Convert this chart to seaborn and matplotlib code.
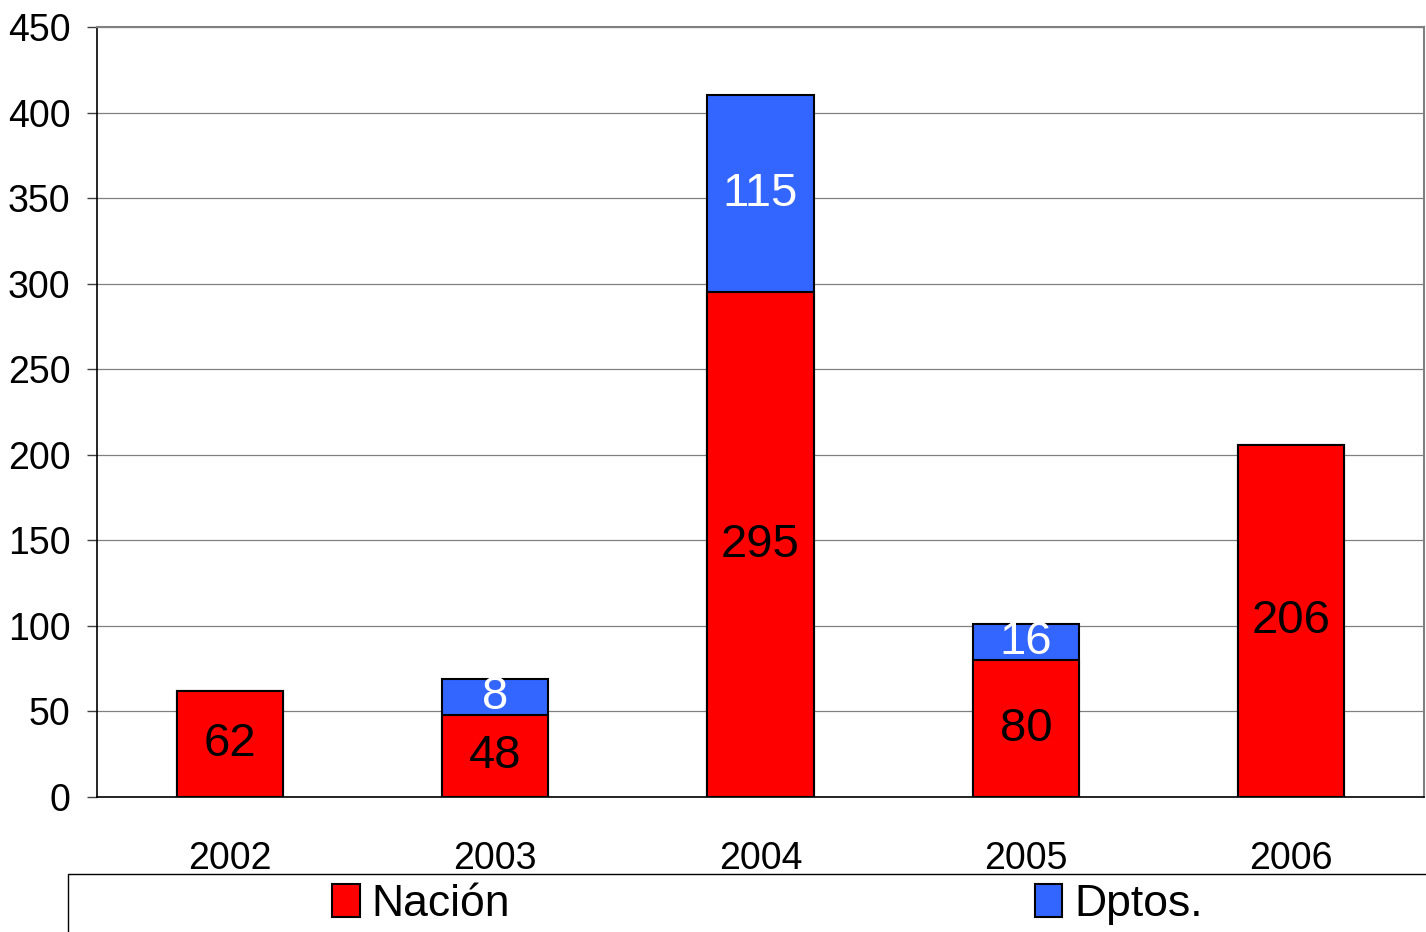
import matplotlib
matplotlib.use("Agg")
import matplotlib.pyplot as plt
from matplotlib.patches import Patch, Rectangle
import pandas as pd
import seaborn as sns

# data
years = ["2002", "2003", "2004", "2005", "2006"]
nacion = [62, 48, 295, 80, 206]
dptos = [0, 21, 115, 21, 0]          # drawn segment heights
dptos_labels = ["", "8", "115", "16", ""]
nacion_labels = ["62", "48", "295", "80", "206"]

RED = "#FF0000"
BLUE = "#3366FF"

sns.set_style("white")
plt.rcParams["font.family"] = ["Liberation Sans Narrow", "Liberation Sans", "DejaVu Sans"]
plt.rcParams["font.stretch"] = "condensed"
plt.rcParams["text.color"] = "black"
plt.rcParams["xtick.color"] = "black"
plt.rcParams["ytick.color"] = "black"

df = pd.DataFrame({"year": years, "nacion": nacion, "dptos": dptos})
df["total"] = df["nacion"] + df["dptos"]

fig = plt.figure(figsize=(14.26, 9.32), dpi=100)
ax = fig.add_axes([97 / 1426, 1 - 797 / 932, (1424 - 97) / 1426, (797 - 27) / 932])

# stacked bars: full total in blue, nacion in red on top of it
sns.barplot(data=df, x="year", y="total", color=BLUE, edgecolor="black",
            linewidth=1.5, width=0.4, saturation=1, ax=ax, zorder=3)
sns.barplot(data=df, x="year", y="nacion", color=RED, edgecolor="black",
            linewidth=1.5, width=0.4, saturation=1, ax=ax, zorder=3)

ax.bar_label(ax.containers[1], labels=nacion_labels, label_type="center",
             fontsize=34, color="black")
for i, (n, d, lab) in enumerate(zip(nacion, dptos, dptos_labels)):
    if lab:
        ax.text(i, n + d / 2, lab, ha="center", va="center", fontsize=34,
                color="white", zorder=4)

ax.set_ylim(0, 450)
ax.set_xlim(-0.5, 4.5)
ax.set_yticks(range(0, 451, 50))
ax.yaxis.grid(True, color="#808080", linewidth=0.9)
ax.set_axisbelow(True)

# x ticks at category boundaries, labels at centers
ax.set_xticks([i - 0.5 for i in range(6)])
ax.set_xticklabels([])
ax.set_xticks(range(5), minor=True)
ax.set_xticklabels(years, minor=True)
ax.tick_params(axis="x", which="major", length=9, width=1, color="#404040", direction="out")
ax.tick_params(axis="x", which="minor", length=0, pad=32, labelsize=27, labelcolor="black")
ax.tick_params(axis="y", length=7, width=1, color="#404040", direction="out",
               pad=12, labelsize=27, labelcolor="black", left=True)
ax.set_xlabel("")
ax.set_ylabel("")

for side in ["left", "bottom"]:
    ax.spines[side].set_color("black")
    ax.spines[side].set_linewidth(1.2)
for side in ["top", "right"]:
    ax.spines[side].set_visible(True)
    ax.spines[side].set_color("#808080")
    ax.spines[side].set_linewidth(1.5)

# legend box, cut off at the figure edge
fig.patches.append(Rectangle((68 / 1426, -0.01), 1.0, (932 - 874) / 932 + 0.01,
                             transform=fig.transFigure, fill=False,
                             edgecolor="black", linewidth=1))
handles = [Patch(facecolor=RED, edgecolor="black", linewidth=1.5, label="Nación"),
           Patch(facecolor=BLUE, edgecolor="black", linewidth=1.5, label="Dptos.")]
fig.legend(handles=handles, loc="upper left", bbox_to_anchor=(332 / 1426, 1 - 884 / 932),
           ncol=2, frameon=False, fontsize=32, borderpad=0, borderaxespad=0,
           handlelength=0.62, handleheight=0.76, handletextpad=0.27, columnspacing=11.8)

fig.savefig("out.png", dpi=100)
